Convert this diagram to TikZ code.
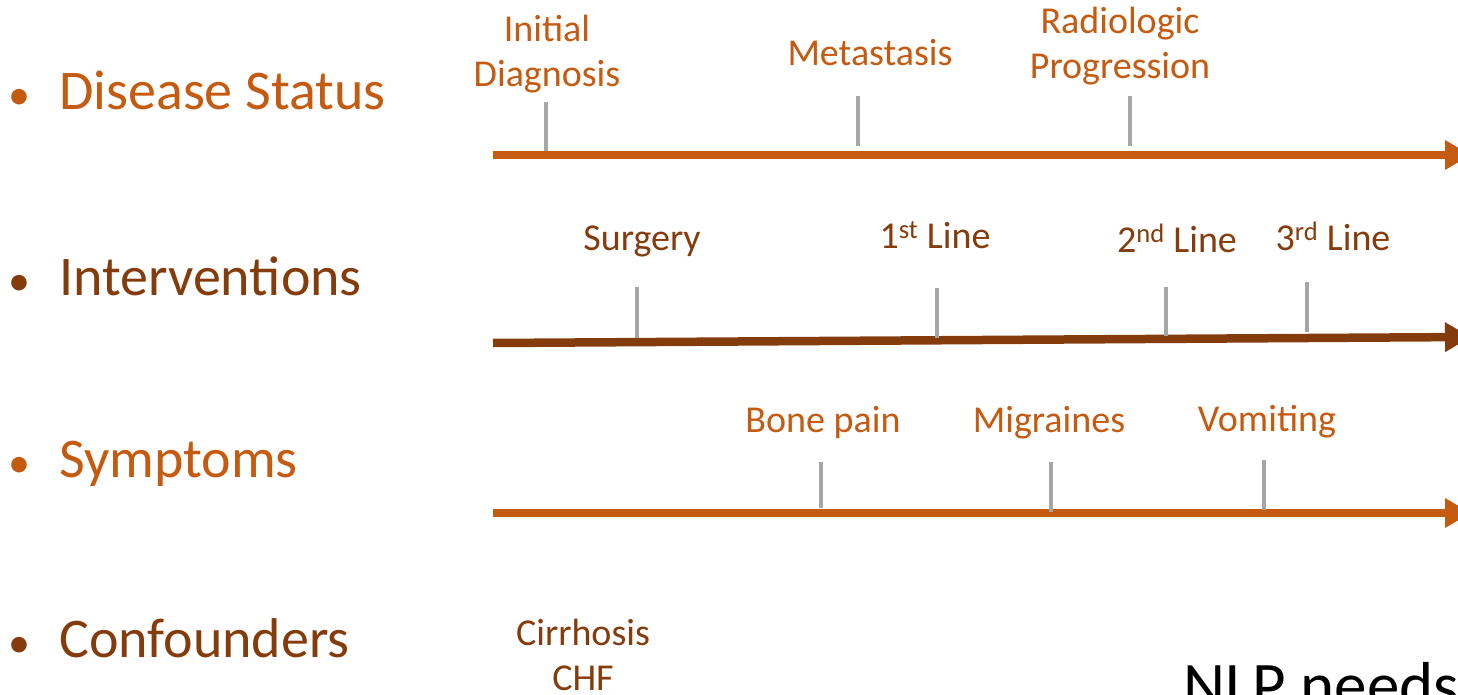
\documentclass[tikz,border=0pt]{standalone}
\usepackage{fontspec}
\setmainfont{Carlito}
\usepackage{tikz}
\usetikzlibrary{positioning, arrows.meta}
\definecolor{orng}{HTML}{C55A11}
\definecolor{brwn}{HTML}{843C0C}
\definecolor{tickGray}{HTML}{A6A6A6}
\begin{document}
\begin{tikzpicture}[x=1pt, y=-1pt, hd/.style={anchor=base west, inner sep=0pt, font=\fontsize{56}{62}\selectfont}, bul/.style={anchor=base, inner sep=0pt, font=\fontsize{44}{50}\selectfont}, lbl/.style={anchor=base, inner sep=0pt, align=center, font=\fontsize{38}{45}\selectfont}, tl/.style={line width=8.5pt, -{Triangle[length=26pt, width=28pt]}}, tk/.style={line width=3.5pt, color=tickGray}]
\useasboundingbox (0,0) rectangle (1458,695); \clip (0,0) rectangle (1458,695);
\node[bul, color=orng] (b1) at (19,110) {•}; \node[hd, color=orng] (ds) at (59,110) {Disease Status};
\node[bul, color=brwn] (b2) at (19,295) {•}; \node[hd, color=brwn] (iv) at (59,295) {Interventions};
\node[bul, color=orng] (b3) at (19,477) {•}; \node[hd, color=orng] (sy) at (59,477) {Symptoms};
\node[bul, color=brwn] (b4) at (19,657) {•}; \node[hd, color=brwn] (cf) at (59,657) {Confounders};
\draw[tl, color=orng] (493,155) -- (1471,155);
\draw[tl, color=brwn] (493,343) -- (1471,337);
\draw[tl, color=orng] (493,513) -- (1471,513);
\draw[tk] (546,102) -- (546,151); \draw[tk] (858,96) -- (858,146); \draw[tk] (1130,96) -- (1130,146);
\draw[tk] (637,287) -- (637,338); \draw[tk] (937,288) -- (937,338); \draw[tk] (1166,287) -- (1166,336); \draw[tk] (1307,282) -- (1307,332);
\draw[tk] (821,462) -- (821,508); \draw[tk] (1051,462) -- (1051,512); \draw[tk] (1264,460) -- (1264,510);
\node[lbl, color=orng] (dx) at (547,87) {Initial\\Diagnosis};
\node[lbl, color=orng] (mets) at (870,66) {Metastasis};
\node[lbl, color=orng] (prog) at (1120,79) {Radiologic\\Progression};
\node[lbl, color=brwn] (surg) at (642,250) {Surgery};
\node[lbl, color=brwn] (l1) at (935,248) {1\textsuperscript{st} Line};
\node[lbl, color=brwn] (l2) at (1177,252) {2\textsuperscript{nd} Line};
\node[lbl, color=brwn] (l3) at (1333,250) {3\textsuperscript{rd} Line};
\node[lbl, color=orng] (bone) at (823,432) {Bone pain};
\node[lbl, color=orng] (migr) at (1049,432) {Migraines};
\node[lbl, color=orng] (vomit) at (1267,431) {Vomiting};
\node[lbl, color=brwn] (cirr) at (583,690) {Cirrhosis\\CHF};
\node[anchor=base west, inner sep=0pt, font=\fontsize{65}{70}\selectfont] (nlp) at (1183,707) {NLP needs};
\end{tikzpicture}
\end{document}
